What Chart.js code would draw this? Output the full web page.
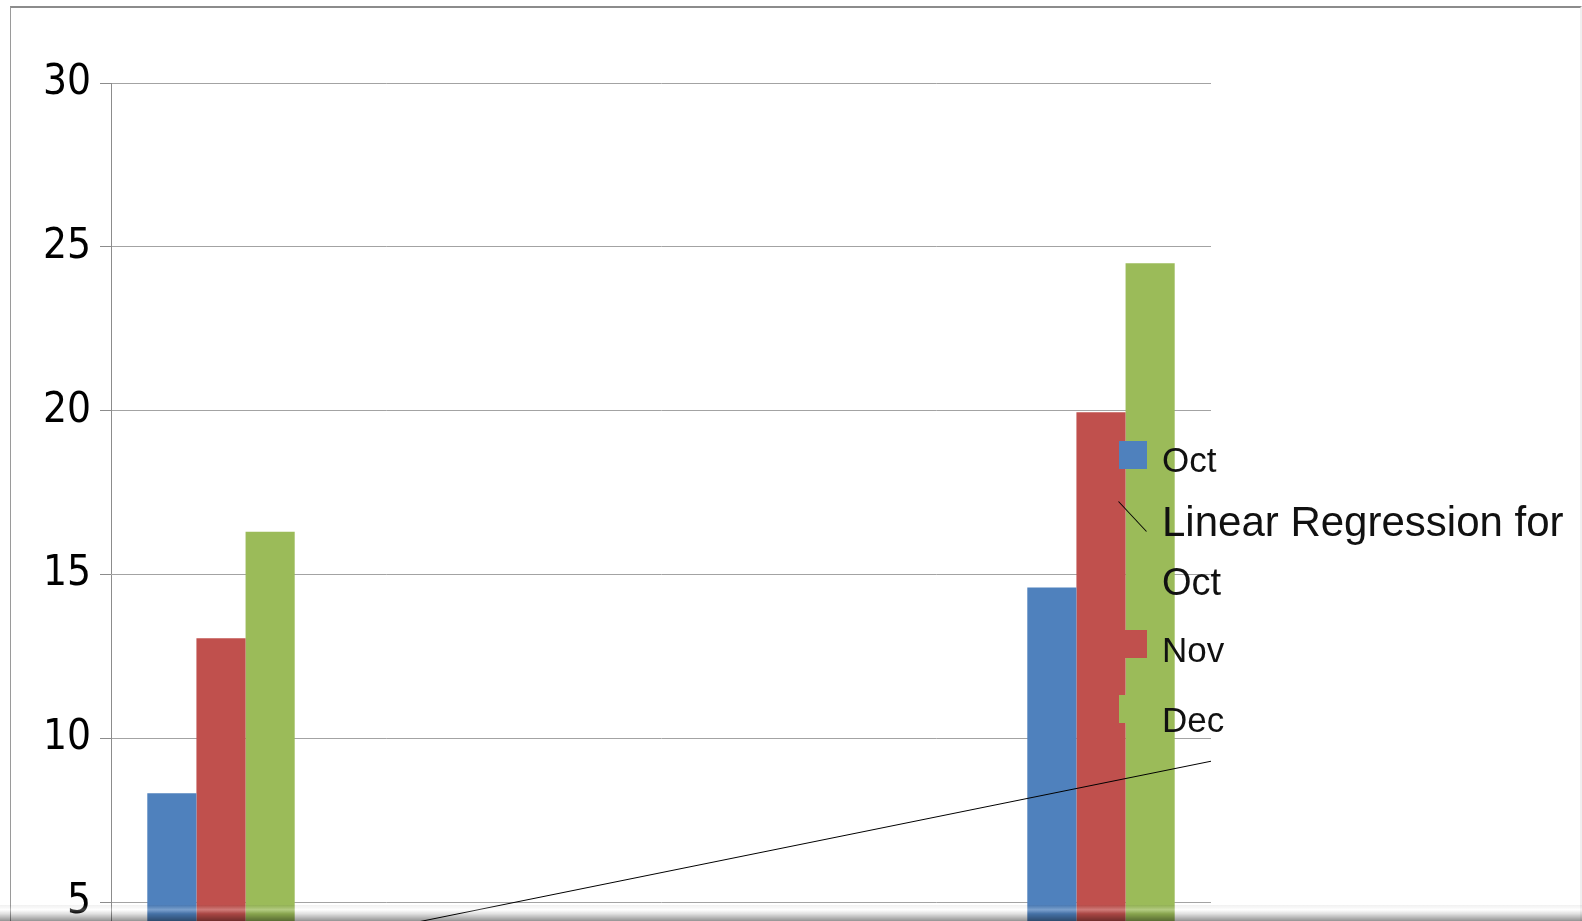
<!DOCTYPE html>
<html>
<head>
<meta charset="utf-8">
<title>Oct / Nov / Dec</title>
<script src="https://cdn.jsdelivr.net/npm/chart.js@4.4.1/dist/chart.umd.min.js"></script>
<style>
    html, body { margin: 0; padding: 0; width: 1582px; height: 921px; overflow: hidden; background: #fff; }
    #frame {
        position: absolute; left: 10px; top: 6px; width: 1569px; height: 940px;
        border-top: 2px solid #8c8c8c; border-left: 1px solid #9a9a9a; border-right: 2px solid #f0f0f0;
    }
    #myChart { position: absolute; left: 0; top: 0; }
    #legend { position: absolute; left: 0; top: 0; width: 1582px; height: 921px; pointer-events: none; }
    .lg-box { position: absolute; left: 1119px; width: 28px; height: 28px; }
    .lg-line { position: absolute; left: 1112px; width: 41px; height: 0; border-top: 1px solid #000; transform: rotate(47deg); }
    .lg-text { position: absolute; left: 1162px; font-family: "Liberation Sans", Arial, sans-serif; color: #111; white-space: nowrap; line-height: 1; }
    /* darkened strip along the bottom edge, the chart shows through it */
    #shade {
        position: absolute; left: 0; top: 905px; width: 1582px; height: 16px;
        background: linear-gradient(rgba(0,0,0,0.06), rgba(255,255,255,0.25) 30%, rgba(0,0,0,0.12) 55%, rgba(0,0,0,0.42));
    }
</style>
</head>
<body>
<div id="frame"></div>
<canvas id="myChart" width="1582" height="1100"></canvas>
<div id="legend"></div>
<div id="shade"></div>

<script>
// categories (their labels sit below the visible crop)
const categories = ['1', '2', '3', '4', '5'];

// values; the middle ones are hidden below the crop
const octValues = [8.32, 1.7, 2.1, 2.75, 14.6];
const novValues = [13.05, 2.4, 3.0, 3.4, 19.95];
const decValues = [16.3, 3.1, 3.6, 4.0, 24.5];

const seriesNames = ['Oct', 'Nov', 'Dec'];
const seriesColors = ['#4F81BD', '#C0504D', '#9BBB59'];
const trendName = 'Linear Regression for Oct';

const yMin = 0, yMax = 30, yStep = 5;

// least squares fit over the category index
function linearFit(values) {
    const n = values.length;
    let sx = 0, sy = 0, sxy = 0, sxx = 0;
    values.forEach((y, i) => { sx += i; sy += y; sxy += i * y; sxx += i * i; });
    const slope = (n * sxy - sx * sy) / (n * sxx - sx * sx);
    const icpt = (sy - slope * sx) / n;
    return { slope, icpt };
}
const fit = linearFit(octValues);

// trend line across the whole plot, placed with the chart's own scales
const trendPlugin = {
    id: 'trendLine',
    afterDatasetsDraw(chart) {
        const x = chart.scales.x, y = chart.scales.y;
        const a = -0.5, b = categories.length - 0.5;
        const c = chart.ctx;
        c.save();
        c.beginPath();
        c.rect(chart.chartArea.left, chart.chartArea.top, chart.chartArea.width, chart.chartArea.height);
        c.clip();
        c.strokeStyle = '#000';
        c.lineWidth = 1;
        c.beginPath();
        c.moveTo(x.getPixelForValue(a), y.getPixelForValue(fit.icpt + fit.slope * a));
        c.lineTo(x.getPixelForValue(b), y.getPixelForValue(fit.icpt + fit.slope * b));
        c.stroke();
        c.restore();
    }
};

const ctx = document.getElementById('myChart').getContext('2d');
const myChart = new Chart(ctx, {
    type: 'bar',
    data: {
        labels: categories,
        datasets: [
            { label: seriesNames[0], data: octValues, backgroundColor: seriesColors[0] },
            { label: seriesNames[1], data: novValues, backgroundColor: seriesColors[1] },
            { label: seriesNames[2], data: decValues, backgroundColor: seriesColors[2] }
        ]
    },
    options: {
        responsive: false, animation: false, devicePixelRatio: 1,
        categoryPercentage: 0.67, barPercentage: 1.0,
        layout: { padding: { left: 0, top: 83, right: 371, bottom: 33 } },
        plugins: { legend: { display: false }, tooltip: { enabled: false } },
        scales: {
            x: { display: false },
            y: {
                min: yMin, max: yMax,
                afterFit: (scale) => { scale.width = 111; },
                ticks: {
                    stepSize: yStep, color: '#000', padding: 9,
                    font: { family: 'DejaVu Sans Condensed', size: 42 }
                },
                grid: { color: '#a3a3a3', lineWidth: 1, tickLength: 11, tickColor: '#8c8c8c' },
                border: { color: '#8c8c8c', width: 1 }
            }
        }
    },
    plugins: [trendPlugin]
});

// legend drawn as html over the chart, like the original
const legend = document.getElementById('legend');
const rows = [
    { kind: 'box', color: seriesColors[0], boxTop: 441, text: seriesNames[0], size: 35, textTop: 442 },
    { kind: 'line', lineTop: 516, text: 'Linear Regression for', size: 42, textTop: 501 },
    { kind: 'none', text: 'Oct', size: 38, textTop: 563 },
    { kind: 'box', color: seriesColors[1], boxTop: 630, text: seriesNames[1], size: 35, textTop: 632 },
    { kind: 'box', color: seriesColors[2], boxTop: 695, text: seriesNames[2], size: 35, textTop: 702 }
];
rows.forEach(r => {
    if (r.kind === 'box') {
        const b = document.createElement('div');
        b.className = 'lg-box';
        b.style.top = r.boxTop + 'px';
        b.style.background = r.color;
        legend.appendChild(b);
    } else if (r.kind === 'line') {
        const l = document.createElement('div');
        l.className = 'lg-line';
        l.style.top = r.lineTop + 'px';
        legend.appendChild(l);
    }
    const t = document.createElement('div');
    t.className = 'lg-text';
    t.style.top = r.textTop + 'px';
    t.style.fontSize = r.size + 'px';
    t.textContent = r.text;
    legend.appendChild(t);
});
</script>
</body>
</html>
